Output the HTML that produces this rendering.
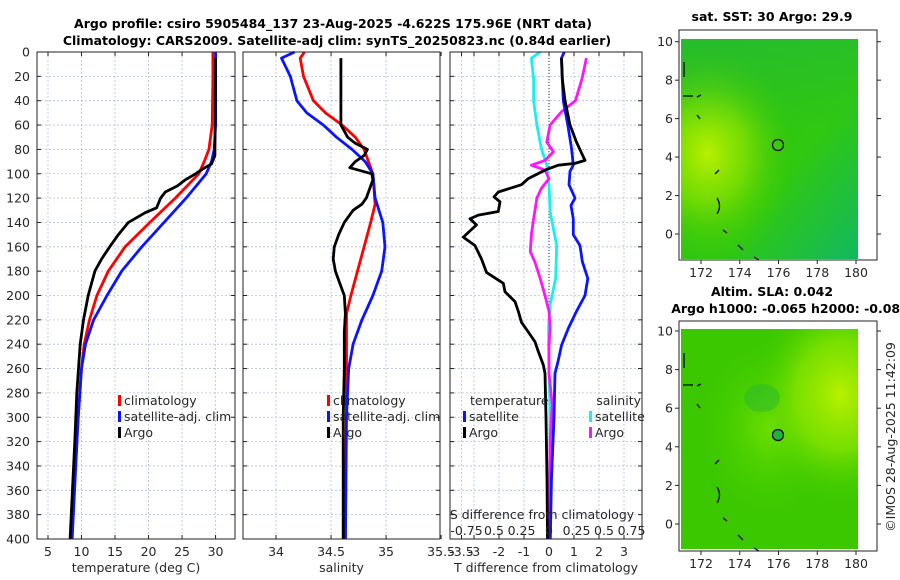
<!DOCTYPE html>
<html><head><meta charset="utf-8"><style>
body{margin:0;background:#fff;}
svg{display:block;font-family:"DejaVu Sans","Liberation Sans",sans-serif;}
.tk{font-size:12.5px;fill:#262626;}
.tt{font-size:12.5px;font-weight:bold;fill:#000;}
</style></head><body>
<svg id="c" width="900" height="580" viewBox="0 0 900 580">
<defs>
<radialGradient id="m1a" cx="0.15" cy="0.52" r="0.5"><stop offset="0" stop-color="#b8f000"/><stop offset="0.45" stop-color="#80e000" stop-opacity="0.8"/><stop offset="1" stop-color="#3cc800" stop-opacity="0"/></radialGradient>
<linearGradient id="m1b" x1="0" y1="0" x2="1" y2="1"><stop offset="0" stop-color="#2cc018"/><stop offset="0.6" stop-color="#30c810"/><stop offset="1" stop-color="#12b860"/></linearGradient>
<linearGradient id="m1c" x1="0" y1="0" x2="0" y2="1"><stop offset="0" stop-color="#20b840" stop-opacity="0.5"/><stop offset="1" stop-color="#20b840" stop-opacity="0"/></linearGradient>
<radialGradient id="m2a" cx="0.9" cy="0.3" r="0.5"><stop offset="0" stop-color="#b8f000"/><stop offset="0.5" stop-color="#90e800" stop-opacity="0.7"/><stop offset="1" stop-color="#40cc00" stop-opacity="0"/></radialGradient>
<radialGradient id="m2b" cx="0.5" cy="0.45" r="0.4"><stop offset="0" stop-color="#70e000"/><stop offset="1" stop-color="#40cc00" stop-opacity="0"/></radialGradient>
</defs>
<g id="titles">
<text class="tt" x="333" y="28" text-anchor="middle">Argo profile: csiro 5905484_137 23-Aug-2025 -4.622S 175.96E (NRT data)</text>
<text class="tt" x="337" y="45" text-anchor="middle">Climatology: CARS2009. Satellite-adj clim: synTS_20250823.nc (0.84d earlier)</text>
</g>
<g id="p1"></g>
<g id="p2"></g>
<g id="p3"></g>
<g id="map1">
<text class="tt" x="772" y="21" text-anchor="middle">sat. SST: 30 Argo: 29.9</text>
<rect x="681" y="39" width="177" height="220" fill="url(#m1b)"/>
<rect x="681" y="39" width="177" height="220" fill="url(#m1a)"/>
<rect x="681" y="39" width="177" height="90" fill="url(#m1c)"/>
<rect x="679" y="30" width="198" height="230" fill="none" stroke="#222" stroke-width="1"/>
<circle cx="778" cy="145" r="5.5" fill="none" stroke="#000" stroke-width="1.2"/>
<path d="M684 62 v15 M683 96 h10 M697 97 l4 -2 M697 115 l3 4 M719 170 l-4 4 M717 198 q5 8 0 16 M723 230 l4 3 M738 245 l5 5 M754 257 l5 3" stroke="#000" stroke-width="1.3" fill="none"/>
</g>
<g id="map2">
<text class="tt" x="772" y="296" text-anchor="middle">Altim. SLA: 0.042</text>
<text class="tt" x="790" y="313" text-anchor="middle">Argo h1000: -0.065 h2000: -0.082</text>
<rect x="681" y="329" width="177" height="220" fill="#3cc800"/>
<rect x="681" y="329" width="177" height="220" fill="url(#m2b)"/>
<rect x="681" y="329" width="177" height="220" fill="url(#m2a)"/>
<ellipse cx="762" cy="398" rx="18" ry="14" fill="#28b830" opacity="0.5"/>
<rect x="679" y="321" width="198" height="230" fill="none" stroke="#222" stroke-width="1"/>
<circle cx="778" cy="435" r="5.5" fill="#22b040" stroke="#000" stroke-width="1.2"/>
<path d="M684 353 v15 M683 385 h10 M697 386 l4 -2 M697 404 l3 4 M719 460 l-4 4 M717 487 q5 8 0 16 M723 518 l4 3 M738 535 l5 5 M754 548 l5 3" stroke="#000" stroke-width="1.3" fill="none"/>
</g>
<g id="mapticks"></g>
<text class="tk" transform="translate(895,437) rotate(-90)" text-anchor="middle">©IMOS 28-Aug-2025 11:42:09</text>
</svg>
<script>
// ---- data ----
const depthTicks=[0,20,40,60,80,100,120,140,160,180,200,220,240,260,280,300,320,340,360,380,400];
const tempTicks=[5,10,15,20,25,30];
const salTicks=[34,34.5,35,35.5];
const salTickLabels=["34","34.5","35","35.5"];
const diffTicks=[-3.5,-3,-2,-1,0,1,2,3];
const diffTickLabels=["-3.5","-3","-2","-1","0","1","2","3"];
const sdiffTicks=[-0.75,-0.5,-0.25,0,0.25,0.5,0.75];
const sdiffTickLabels=["-0.75","0.5","0.25","0","0.25","0.5","0.75"];
const tempClim=[[0,29.6],[20,29.6],[60,29.5],[80,29.0],[90,28.3],[100,27.5],[120,24],[140,20.2],[160,16.5],[180,14],[200,12.3],[220,11.2],[240,10.4],[260,10],[300,9.5],[350,9.0],[400,8.6]];
const tempSat=[[0,30.0],[60,30.0],[80,29.8],[90,29.4],[100,28.6],[120,25.6],[140,22.3],[160,19],[180,16],[200,13.8],[220,11.8],[240,10.6],[260,10.0],[300,9.5],[400,8.6]];
const tempArgo=[[5,30],[85,29.9],[92,29.4],[95,28.4],[100,27],[105,25.5],[110,24.3],[115,22.5],[120,21.8],[128,21.2],[132,19.5],[140,17],[150,15.5],[160,14.2],[170,13],[180,12],[200,11],[220,10.3],[240,9.8],[280,9.3],[320,9.0],[400,8.3]];
const salClim=[[0,34.26],[5,34.22],[20,34.25],[40,34.34],[50,34.45],[60,34.6],[70,34.72],[80,34.8],[100,34.88],[125,34.9],[140,34.86],[160,34.8],[180,34.74],[200,34.68],[215,34.64],[260,34.64],[400,34.63]];
const salSat=[[0,34.17],[5,34.05],[20,34.13],[40,34.19],[50,34.28],[60,34.43],[70,34.55],[80,34.69],[90,34.81],[100,34.88],[120,34.9],[140,34.97],[160,34.99],[180,34.96],[200,34.88],[220,34.78],[240,34.7],[260,34.66],[300,34.64],[400,34.63]];
const salArgo=[[5,34.59],[60,34.59],[65,34.62],[70,34.65],[75,34.72],[80,34.83],[85,34.8],[90,34.72],[95,34.67],[100,34.87],[105,34.88],[110,34.86],[115,34.84],[120,34.82],[125,34.78],[130,34.7],[140,34.62],[150,34.57],[160,34.53],[170,34.52],[180,34.54],[190,34.58],[200,34.62],[215,34.63],[230,34.62],[260,34.62],[300,34.61],[400,34.61]];
const tdiffArgo=[[5,0.5],[22,0.53],[40,0.64],[60,0.84],[74,1.1],[82,1.28],[89,1.44],[91.5,1.04],[93,0.37],[97,-0.16],[104,-0.83],[109,-1.1],[115,-2.03],[119,-2.2],[123,-1.96],[131,-2.03],[134,-2.83],[137,-3.16],[142,-2.9],[152,-3.43],[159,-2.96],[170,-2.7],[181,-2.5],[190,-1.83],[197,-1.76],[205,-1.36],[213,-1.23],[222,-1.1],[230,-0.83],[238,-0.56],[246,-0.43],[257,-0.23],[264,-0.16],[300,-0.12],[350,-0.08],[400,-0.06]];
const tdiffSat=[[0,0.61],[5,0.5],[22,0.53],[40,0.57],[60,0.75],[79,0.9],[93,0.97],[98,0.84],[109,0.8],[120,1.04],[126,0.88],[137,0.97],[150,0.97],[159,1.24],[172,1.33],[186,1.55],[200,1.44],[213,1.1],[227,0.77],[241,0.5],[255,0.35],[264,0.24],[300,0.2],[350,0.1],[400,0.05]];
const sdiffArgo=[[5,0.34],[22,0.3],[40,0.24],[49,0.115],[60,0.01],[74,-0.02],[82,0.04],[89,-0.036],[93,-0.16],[97,-0.036],[104,0],[112,-0.07],[120,-0.11],[137,-0.14],[150,-0.16],[164,-0.17],[172,-0.13],[186,-0.08],[200,-0.036],[213,0],[227,0.01],[241,0],[264,0],[290,0.03],[320,0.01],[400,0.0]];
const sdiffSat=[[0,-0.08],[5,-0.16],[22,-0.14],[40,-0.14],[60,-0.11],[79,-0.07],[93,-0.02],[109,0],[131,0.01],[159,0.07],[186,0.06],[208,0.01],[227,-0.005],[260,0],[300,0.01],[400,0.01]];
const mapLon=[172,174,176,178,180];
const mapLat=[0,2,4,6,8,10];

// ---- layout ----
const Y0=52,Y1=539;
const yD=d=>Y0+(Y1-Y0)*d/400;
const P1={x0:37,x1:235,v0:3.36,v1:32.9};
const P2={x0:243,x1:440,v0:33.7,v1:35.49};
const P3={x0:450,x1:642,v0:-3.96,v1:3.72};
const sx=(p,v)=>p.x0+(p.x1-p.x0)*(v-p.v0)/(p.v1-p.v0);
const s3=v=>549+110*v;
const NS='http://www.w3.org/2000/svg';
function mk(tag,attrs,parent,txt){const e=document.createElementNS(NS,tag);for(const k in attrs)e.setAttribute(k,attrs[k]);if(txt!==undefined)e.textContent=txt;parent.appendChild(e);return e;}

function panel(g,p,ticks,labels,title,name){
  for(const d of depthTicks){const y=yD(d);
    mk('line',{x1:p.x0,x2:p.x1,y1:y,y2:y,stroke:'#b4bedc','stroke-width':0.8,'stroke-dasharray':'2,2'},g);
    mk('line',{x1:p.x0,x2:p.x0+4,y1:y,y2:y,stroke:'#222'},g);
    mk('line',{x1:p.x1-4,x2:p.x1,y1:y,y2:y,stroke:'#222'},g);}
  ticks.forEach((t,i)=>{const x=sx(p,t);
    if(x>p.x0+1&&x<p.x1-1) mk('line',{x1:x,x2:x,y1:Y0,y2:Y1,stroke:'#b4bedc','stroke-width':0.8,'stroke-dasharray':'2,2'},g);
    mk('line',{x1:x,x2:x,y1:Y1,y2:Y1-4,stroke:'#222'},g);
    mk('line',{x1:x,x2:x,y1:Y0,y2:Y0+4,stroke:'#222'},g);
    const t1=mk('text',{class:'tk',x:x,y:556,'text-anchor':'middle'},g,labels[i]);
    
    });
  const tt=mk('text',{class:'tk',x:(p.x0+p.x1)/2,y:572,'text-anchor':'middle'},g,title);
  
  
}
function frame(g,p){mk('rect',{x:p.x0,y:Y0,width:p.x1-p.x0,height:Y1-Y0,fill:'none',stroke:'#222','stroke-width':1},g);}
function line(g,data,fx,color,name){
  const d=data.map((r,i)=>(i?'L':'M')+fx(r[1]).toFixed(1)+' '+yD(r[0]).toFixed(1)).join(' ');
  const e=mk('path',{d:d,fill:'none',stroke:color,'stroke-width':2.8,'stroke-linejoin':'round'},g);
  
  
}
function leg(g,x,y,color,label,name){
  mk('rect',{x:x,y:y-10,width:3,height:11,fill:color},g);
  const t=mk('text',{class:'tk',x:x+6,y:y},g,label);
  
  
}
const g1=document.getElementById('p1'),g2=document.getElementById('p2'),g3=document.getElementById('p3');
panel(g1,P1,tempTicks,tempTicks.map(String),'temperature (deg C)','temperature');
for(const d of depthTicks){const t=mk('text',{class:'tk',x:30,y:yD(d)+4.5,'text-anchor':'end'},g1,String(d));
  
  }
line(g1,tempClim,v=>sx(P1,v),'#f00','temp-climatology-line');
line(g1,tempSat,v=>sx(P1,v),'#0a14ff','temp-satellite-line');
line(g1,tempArgo,v=>sx(P1,v),'#000','temp-argo-line');
frame(g1,P1);
leg(g1,118,405,'#f00','climatology','legend-climatology');
leg(g1,118,421,'#0a14ff','satellite-adj. clim','legend-satellite-adj');
leg(g1,118,437,'#000','Argo','legend-argo');

panel(g2,P2,salTicks,salTickLabels,'salinity','salinity');
line(g2,salClim,v=>sx(P2,v),'#f00','sal-climatology-line');
line(g2,salSat,v=>sx(P2,v),'#0a14ff','sal-satellite-line');
line(g2,salArgo,v=>sx(P2,v),'#000','sal-argo-line');
frame(g2,P2);
leg(g2,327,405,'#f00','climatology','legend-climatology-2');
leg(g2,327,421,'#0a14ff','satellite-adj. clim','legend-satellite-adj-2');
leg(g2,327,437,'#000','Argo','legend-argo-2');

panel(g3,P3,diffTicks,diffTickLabels,'T difference from climatology','tdiff');
mk('line',{x1:549,x2:549,y1:Y0,y2:Y1,stroke:'#333','stroke-dasharray':'1,2'},g3);
line(g3,sdiffSat,s3,'#18f0f0','sdiff-satellite-line');
line(g3,sdiffArgo,s3,'#ff14ff','sdiff-argo-line');
line(g3,tdiffSat,v=>sx(P3,v),'#0a14ff','tdiff-satellite-line');
line(g3,tdiffArgo,v=>sx(P3,v),'#000','tdiff-argo-line');
frame(g3,P3);
mk('text',{class:'tk',x:470,y:405},g3,'temperature');
mk('text',{class:'tk',x:641,y:405,'text-anchor':'end'},g3,'salinity');
leg(g3,463,421,'#0a14ff','satellite','legend-t-satellite');
leg(g3,463,437,'#000','Argo','legend-t-argo');
leg(g3,589,421,'#18f0f0','satellite','legend-s-satellite');
leg(g3,589,437,'#ff14ff','Argo','legend-s-argo');
mk('text',{class:'tk',x:542,y:519,'text-anchor':'middle'},g3,'S difference from climatology');
sdiffTicks.forEach((t,i)=>{const e=mk('text',{class:'tk',x:s3(t),y:535,'text-anchor':'middle'},g3,sdiffTickLabels[i]);
  
  });

// map axes
const gm=document.getElementById('mapticks');
const lonX=v=>701+(856-701)*(v-172)/8;
[[30,260,234,41.7],[321,551,524,331]].forEach(([top,bot,y0,y10])=>{
  mapLon.forEach(v=>{const x=lonX(v);
    mk('line',{x1:x,x2:x,y1:bot,y2:bot+4,stroke:'#222'},gm);
    const t=mk('text',{class:'tk',x:x,y:bot+17,'text-anchor':'middle'},gm,String(v));
    
    });
  mapLat.forEach(v=>{const y=y0+(y10-y0)*v/10;
    mk('line',{x1:675,x2:679,y1:y,y2:y,stroke:'#222'},gm);
    mk('line',{x1:877,x2:881,y1:y,y2:y,stroke:'#222'},gm);
    const t=mk('text',{class:'tk',x:673,y:y+4.5,'text-anchor':'end'},gm,String(v));
    
    });
});
</script>
</body></html>
